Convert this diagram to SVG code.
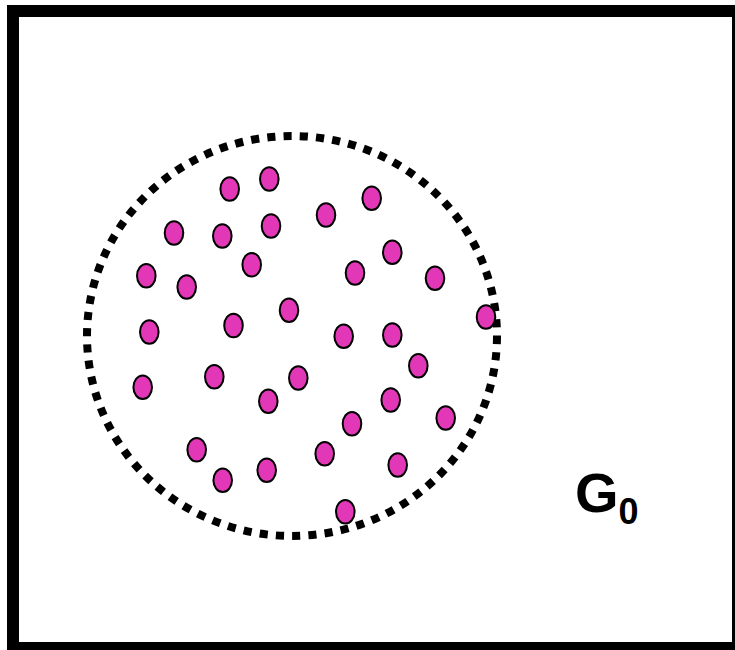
<svg xmlns="http://www.w3.org/2000/svg" width="735" height="650" viewBox="0 0 735 650">
<style>
.frame{fill:#ffffff;stroke:#000000;stroke-width:12}
.boundary{fill:none;stroke:#000000;stroke-width:8;stroke-dasharray:8.15 8.15}
.dot{fill:#e238b7;stroke:#000000;stroke-width:2}
.lbl{font-family:"Liberation Sans",Arial,sans-serif;font-weight:bold;fill:#000000}
</style>
<rect width="735" height="650" fill="#ffffff"/>
<g id="frame"><rect class="frame" x="13" y="11" width="725" height="637"/></g>
<g id="boundary"><ellipse class="boundary" cx="292" cy="336" rx="205" ry="200"/></g>
<g id="nodes">
<g id="n1"><ellipse class="dot" cx="229.7" cy="189" rx="9.3" ry="11.8"/></g>
<g id="n2"><ellipse class="dot" cx="269.3" cy="179" rx="9.3" ry="11.8"/></g>
<g id="n3"><ellipse class="dot" cx="174" cy="233" rx="9.3" ry="11.8"/></g>
<g id="n4"><ellipse class="dot" cx="222.3" cy="236" rx="9.3" ry="11.8"/></g>
<g id="n5"><ellipse class="dot" cx="271" cy="226" rx="9.3" ry="11.8"/></g>
<g id="n6"><ellipse class="dot" cx="326" cy="215" rx="9.3" ry="11.8"/></g>
<g id="n7"><ellipse class="dot" cx="371.7" cy="198.3" rx="9.3" ry="11.8"/></g>
<g id="n8"><ellipse class="dot" cx="146.3" cy="275.7" rx="9.3" ry="11.8"/></g>
<g id="n9"><ellipse class="dot" cx="186.7" cy="287" rx="9.3" ry="11.8"/></g>
<g id="n10"><ellipse class="dot" cx="251.7" cy="264.7" rx="9.3" ry="11.8"/></g>
<g id="n11"><ellipse class="dot" cx="355" cy="273" rx="9.3" ry="11.8"/></g>
<g id="n12"><ellipse class="dot" cx="392.3" cy="252.3" rx="9.3" ry="11.8"/></g>
<g id="n13"><ellipse class="dot" cx="435" cy="278.3" rx="9.3" ry="11.8"/></g>
<g id="n14"><ellipse class="dot" cx="486" cy="317" rx="9.3" ry="11.8"/></g>
<g id="n15"><ellipse class="dot" cx="149.3" cy="332" rx="9.3" ry="11.8"/></g>
<g id="n16"><ellipse class="dot" cx="233.5" cy="325.5" rx="9.3" ry="11.8"/></g>
<g id="n17"><ellipse class="dot" cx="289" cy="310.3" rx="9.3" ry="11.8"/></g>
<g id="n18"><ellipse class="dot" cx="343.7" cy="336.3" rx="9.3" ry="11.8"/></g>
<g id="n19"><ellipse class="dot" cx="392.3" cy="335" rx="9.3" ry="11.8"/></g>
<g id="n20"><ellipse class="dot" cx="418.3" cy="365.7" rx="9.3" ry="11.8"/></g>
<g id="n21"><ellipse class="dot" cx="142.7" cy="387.3" rx="9.3" ry="11.8"/></g>
<g id="n22"><ellipse class="dot" cx="214.3" cy="376.7" rx="9.3" ry="11.8"/></g>
<g id="n23"><ellipse class="dot" cx="298.3" cy="378" rx="9.3" ry="11.8"/></g>
<g id="n24"><ellipse class="dot" cx="268.3" cy="401.3" rx="9.3" ry="11.8"/></g>
<g id="n25"><ellipse class="dot" cx="390.7" cy="400" rx="9.3" ry="11.8"/></g>
<g id="n26"><ellipse class="dot" cx="352" cy="423.7" rx="9.3" ry="11.8"/></g>
<g id="n27"><ellipse class="dot" cx="445.7" cy="418" rx="9.3" ry="11.8"/></g>
<g id="n28"><ellipse class="dot" cx="196.7" cy="449.7" rx="9.3" ry="11.8"/></g>
<g id="n29"><ellipse class="dot" cx="222.7" cy="480.3" rx="9.3" ry="11.8"/></g>
<g id="n30"><ellipse class="dot" cx="266.7" cy="470.3" rx="9.3" ry="11.8"/></g>
<g id="n31"><ellipse class="dot" cx="324.7" cy="453.7" rx="9.3" ry="11.8"/></g>
<g id="n32"><ellipse class="dot" cx="397.7" cy="465" rx="9.3" ry="11.8"/></g>
<g id="n33"><ellipse class="dot" cx="345.3" cy="511.7" rx="9.3" ry="11.8"/></g>
</g>
<g id="connectors"></g>
<g id="label"><text class="lbl" x="575" y="511.5" font-size="56">G<tspan font-size="36" y="523.5">0</tspan></text></g>
</svg>
